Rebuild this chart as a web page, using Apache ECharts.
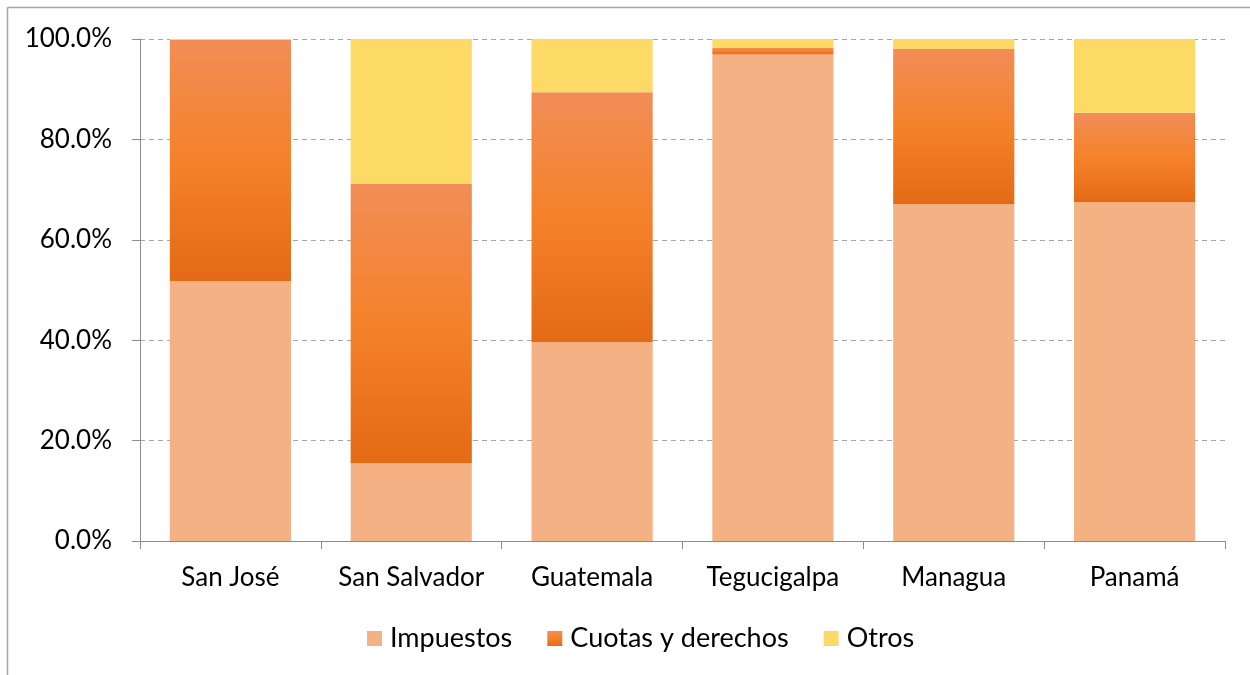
<!DOCTYPE html>
<html>
<head>
<meta charset="utf-8">
<style>
  html, body { margin: 0; padding: 0; background: #fff; }
  #chart { width: 1250px; height: 675px; }
</style>
<script src="https://cdn.jsdelivr.net/npm/echarts@6/dist/echarts.min.js"></script>
</head>
<body>
<div id="chart"></div>
<script>
// Ciudades y composición de ingresos (% del total)
const ciudades = ['San José', 'San Salvador', 'Guatemala', 'Tegucigalpa', 'Managua', 'Panamá'];
const impuestos = [51.8, 15.5, 39.6, 96.9, 67.1, 67.5];
const cuotas = [48.0, 55.6, 49.8, 1.3, 30.9, 17.8];
const otros = [0.2, 28.9, 10.6, 1.8, 2.0, 14.7];
const yTicks = [0, 20, 40, 60, 80, 100];

const FONT = 'Lato, "Open Sans", sans-serif';
const SIZE = 26;

const chart = echarts.init(document.getElementById('chart'));

const cuotasGradient = new echarts.graphic.LinearGradient(0, 0, 0, 1, [
  { offset: 0, color: '#F18D57' },
  { offset: 0.5, color: '#F5822A' },
  { offset: 1, color: '#E46A16' }
]);

chart.setOption({
  backgroundColor: '#ffffff',
  animation: false,
  graphic: [
    { type: 'line', shape: { x1: 7.5, y1: 7.5, x2: 1250, y2: 7.5 }, style: { stroke: '#a6a6a6', lineWidth: 1.5 } },
    { type: 'line', shape: { x1: 7.5, y1: 7.5, x2: 7.5, y2: 675 }, style: { stroke: '#a6a6a6', lineWidth: 1.5 } }
  ],
  grid: { left: 140, right: 25, top: 39, bottom: 134, containLabel: false },
  legend: {
    top: 620,
    left: 362,
    itemWidth: 15,
    itemHeight: 15,
    itemGap: 35,
    icon: 'rect',
    textStyle: { fontFamily: FONT, fontSize: 27, color: '#000', padding: [0, 0, 0, 3] },
    data: ['Impuestos', 'Cuotas y derechos', 'Otros']
  },
  xAxis: {
    type: 'category',
    data: ciudades,
    axisLine: { lineStyle: { color: '#8c8c8c', width: 1 } },
    axisTick: { show: true, length: 8, lineStyle: { color: '#8c8c8c' } },
    axisLabel: { interval: 0, fontFamily: FONT, fontSize: SIZE, color: '#000', margin: 24 }
  },
  yAxis: {
    type: 'value',
    min: yTicks[0],
    max: yTicks[yTicks.length - 1],
    interval: 20,
    axisLine: { show: true, lineStyle: { color: '#8c8c8c', width: 1 } },
    axisTick: { show: true, length: 8, lineStyle: { color: '#8c8c8c' } },
    axisLabel: {
      fontFamily: FONT, fontSize: SIZE, color: '#000', margin: 28,
      formatter: v => v.toFixed(1) + '%'
    },
    splitLine: { show: true, lineStyle: { color: '#a6a6a6', type: [5, 4], width: 1 } }
  },
  series: [
    {
      name: 'Impuestos', type: 'bar', stack: 'total', barCategoryGap: '33%',
      itemStyle: { color: '#F4B183' }, data: impuestos
    },
    {
      name: 'Cuotas y derechos', type: 'bar', stack: 'total',
      itemStyle: { color: cuotasGradient }, data: cuotas
    },
    {
      name: 'Otros', type: 'bar', stack: 'total',
      itemStyle: { color: '#FDD966' }, data: otros
    }
  ]
});
</script>
</body>
</html>
